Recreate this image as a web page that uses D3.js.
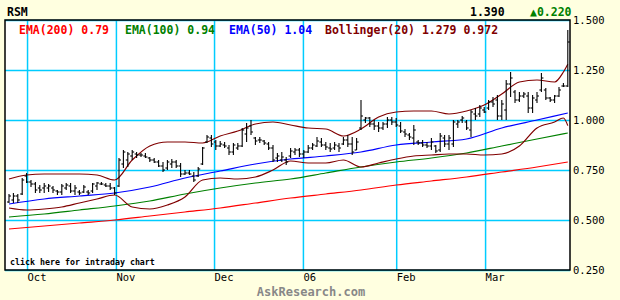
<!DOCTYPE html>
<html>
<head>
<meta charset="utf-8">
<script src="https://cdn.jsdelivr.net/npm/d3@7"></script>
<style>
  body { margin: 0; background: #ffffe0; }
  svg { display: block; }
</style>
</head>
<body>
<svg id="chart" width="620" height="300"></svg>
<script>
// ---- data ----
const symbol = "RSM";
const lastPrice = "1.390";
const change = "\u25B20.220";

const highs = [0.63,0.635,0.63,0.71,0.735,0.70,0.69,0.675,0.685,0.68,
  0.67,0.65,0.68,0.685,0.685,0.675,0.65,0.675,0.65,0.685,
  0.69,0.69,0.685,0.685,0.665,0.81,0.85,0.84,0.85,0.84,
  0.835,0.835,0.815,0.81,0.80,0.79,0.80,0.805,0.80,0.785,
  0.75,0.75,0.74,0.765,0.865,0.925,0.925,0.90,0.895,0.89,
  0.875,0.885,0.885,0.96,0.985,1.00,0.915,0.915,0.90,0.89,
  0.875,0.835,0.84,0.815,0.86,0.86,0.86,0.85,0.875,0.885,
  0.915,0.91,0.89,0.885,0.89,0.885,0.915,0.925,0.915,0.91,
  1.10,1.015,1.015,1.00,0.99,0.99,1.015,1.015,1.01,0.99,
  0.955,0.935,0.975,0.90,0.90,0.89,0.91,0.875,0.935,0.925,
  0.925,1.00,1.00,1.02,1.00,1.05,1.06,1.075,1.065,1.10,
  1.115,1.125,1.10,1.20,1.24,1.15,1.14,1.14,1.14,1.125,
  1.14,1.235,1.16,1.115,1.125,1.165,1.185,1.45];

const lows = [0.585,0.585,0.585,0.625,0.685,0.665,0.635,0.635,0.635,0.64,
  0.635,0.625,0.625,0.65,0.635,0.625,0.625,0.635,0.625,0.635,
  0.65,0.675,0.665,0.65,0.625,0.665,0.76,0.765,0.80,0.81,
  0.815,0.81,0.79,0.785,0.765,0.74,0.75,0.76,0.76,0.715,
  0.725,0.725,0.69,0.715,0.775,0.885,0.865,0.85,0.865,0.86,
  0.825,0.825,0.85,0.865,0.89,0.925,0.875,0.885,0.875,0.85,
  0.79,0.79,0.79,0.775,0.81,0.825,0.815,0.81,0.835,0.85,
  0.865,0.865,0.85,0.84,0.85,0.84,0.875,0.865,0.825,0.85,
  0.95,0.985,0.965,0.95,0.94,0.95,0.96,0.975,0.965,0.935,
  0.915,0.90,0.875,0.875,0.865,0.86,0.85,0.835,0.84,0.865,
  0.85,0.865,0.96,0.985,0.95,0.915,1.00,1.015,1.035,1.05,
  1.065,1.00,1.00,1.00,1.115,1.085,1.09,1.11,1.035,1.035,
  1.085,1.14,1.10,1.09,1.085,1.115,1.165,1.165];

const opens = [0.59,0.60,0.62,0.63,0.72,0.69,0.68,0.66,0.66,0.66,
  0.66,0.645,0.64,0.66,0.67,0.645,0.64,0.64,0.64,0.645,
  0.67,0.68,0.675,0.67,0.66,0.67,0.78,0.80,0.82,0.83,
  0.825,0.82,0.81,0.80,0.79,0.77,0.76,0.78,0.79,0.77,
  0.73,0.735,0.72,0.72,0.78,0.89,0.91,0.89,0.87,0.875,
  0.86,0.84,0.86,0.87,0.93,0.97,0.91,0.90,0.895,0.88,
  0.86,0.81,0.80,0.80,0.82,0.84,0.85,0.83,0.84,0.86,
  0.87,0.89,0.875,0.86,0.86,0.87,0.88,0.90,0.88,0.85,
  0.96,1.00,1.01,0.98,0.97,0.96,0.98,1.00,0.99,0.97,
  0.94,0.925,0.91,0.89,0.885,0.875,0.87,0.87,0.85,0.91,
  0.88,0.88,0.98,1.00,0.99,0.95,1.03,1.03,1.05,1.06,
  1.09,1.10,1.02,1.05,1.18,1.14,1.10,1.12,1.12,1.06,
  1.10,1.15,1.15,1.11,1.10,1.12,1.17,1.17];

const closes = [0.62,0.62,0.60,0.70,0.69,0.68,0.65,0.65,0.67,0.67,
  0.65,0.64,0.67,0.675,0.645,0.66,0.635,0.665,0.635,0.68,
  0.685,0.68,0.67,0.66,0.635,0.80,0.84,0.83,0.84,0.825,
  0.825,0.815,0.80,0.79,0.77,0.75,0.79,0.79,0.77,0.73,
  0.735,0.73,0.70,0.755,0.86,0.915,0.88,0.87,0.88,0.87,
  0.84,0.875,0.87,0.95,0.96,0.94,0.895,0.90,0.885,0.86,
  0.80,0.82,0.815,0.79,0.845,0.85,0.83,0.84,0.86,0.875,
  0.895,0.875,0.865,0.855,0.875,0.86,0.90,0.88,0.84,0.89,
  1.02,1.01,0.98,0.97,0.96,0.98,1.00,0.99,0.975,0.945,
  0.93,0.915,0.95,0.885,0.875,0.87,0.89,0.845,0.92,0.88,
  0.91,0.99,0.99,1.01,0.96,1.04,1.02,1.06,1.04,1.09,
  1.08,1.02,1.08,1.18,1.21,1.10,1.12,1.13,1.06,1.11,
  1.12,1.21,1.11,1.10,1.12,1.15,1.17,1.39];

// moving averages, sampled every 8 bars
const emaIdx    = [0,8,16,24,32,40,48,56,64,72,80,88,96,104,112,120,127];
const ema200    = [0.455,0.47,0.485,0.50,0.52,0.54,0.56,0.585,0.61,0.63,0.65,0.675,0.695,0.715,0.74,0.765,0.79];
const ema100    = [0.515,0.53,0.55,0.57,0.595,0.63,0.66,0.685,0.705,0.735,0.765,0.79,0.81,0.835,0.87,0.905,0.935];
const ema50     = [0.58,0.605,0.62,0.635,0.665,0.71,0.745,0.78,0.805,0.82,0.84,0.875,0.89,0.905,0.96,1.00,1.035];

// bollinger bands, sampled every 4 bars
const bbIdx   = [0,4,8,12,16,20,24,28,32,36,40,44,48,52,56,60,64,68,72,76,80,84,88,92,96,100,104,108,112,116,120,124,126,127];
const bbUpper = [0.705,0.725,0.73,0.73,0.73,0.725,0.70,0.80,0.87,0.89,0.89,0.885,0.92,0.945,0.98,0.99,0.975,0.96,0.955,0.92,0.955,1.015,1.04,1.045,1.045,1.03,1.045,1.075,1.13,1.19,1.20,1.19,1.24,1.279];
const bbLower = [0.56,0.55,0.555,0.565,0.585,0.605,0.625,0.565,0.555,0.575,0.615,0.70,0.71,0.705,0.715,0.75,0.795,0.785,0.785,0.80,0.765,0.785,0.805,0.82,0.825,0.83,0.83,0.825,0.83,0.87,0.96,0.99,1.01,0.972];

const monthLabels = ["Oct","Nov","Dec","06","Feb","Mar"];
const monthIdx    = [4.1,24.3,46.6,66.8,88,108.2];
const priceTicks  = [0.25,0.5,0.75,1.0,1.25,1.5];

const legend = [
  { text: "EMA(200) 0.79", color: "#ff0000", x: 19 },
  { text: "EMA(100) 0.94", color: "#008000", x: 125 },
  { text: "EMA(50) 1.04", color: "#0000ff", x: 229 },
  { text: "Bollinger(20) 1.279 0.972", color: "#800000", x: 325 },
];

// ---- layout ----
const plotL = 5, plotR = 570, plotT = 20, plotB = 270;
const mono = "'DejaVu Sans Mono', 'Liberation Mono', monospace";
const gridColor = "#00ccff";

const svg = d3.select("#chart");

const x = d3.scaleLinear().domain([0, highs.length - 1]).range([9, 567.8]);
const y = d3.scaleLinear().domain([0.25, 1.5]).range([plotB, plotT]);

svg.append("rect")
  .attr("x", plotL).attr("y", plotT)
  .attr("width", plotR - plotL).attr("height", plotB - plotT)
  .attr("fill", "white");

// horizontal grid + price labels
const yAxis = svg.append("g")
  .attr("transform", `translate(${plotL},0)`)
  .call(d3.axisRight(y).tickValues(priceTicks).tickSize(plotR - plotL).tickPadding(3).tickFormat(d3.format(".3f")));
yAxis.select(".domain").remove();
yAxis.selectAll("line").attr("stroke", gridColor).attr("stroke-width", 1.5);
yAxis.selectAll("text")
  .attr("font-family", mono).attr("font-size", "10.5px").attr("fill", "#000");

// vertical grid + month labels
const xAxis = svg.append("g")
  .attr("transform", `translate(0,${plotB})`)
  .call(d3.axisBottom(x).tickValues(monthIdx).tickSize(-(plotB - plotT)).tickPadding(4)
    .tickFormat((d, i) => monthLabels[i]));
xAxis.select(".domain").remove();
xAxis.selectAll("line").attr("stroke", gridColor).attr("stroke-width", 1.5);
xAxis.selectAll("text")
  .attr("text-anchor", "start")
  .attr("font-family", mono).attr("font-size", "10.5px").attr("fill", "#000");

// indicator lines
function drawLine(idx, vals, color) {
  const pts = idx.map((d, i) => [d, vals[i]]);
  svg.append("path")
    .datum(pts)
    .attr("fill", "none")
    .attr("stroke", color)
    .attr("stroke-width", 1.2)
    .attr("d", d3.line().x(d => x(d[0])).y(d => y(d[1])).curve(d3.curveMonotoneX));
}
drawLine(emaIdx, ema200, "#ff0000");
drawLine(emaIdx, ema100, "#008000");
drawLine(emaIdx, ema50, "#0000ff");
drawLine(bbIdx, bbUpper, "#800000");
drawLine(bbIdx, bbLower, "#800000");

// OHLC bars
const bars = svg.append("g").attr("stroke", "#000").attr("stroke-width", 1.1);
highs.forEach((h, i) => {
  const cx = x(i);
  bars.append("line").attr("x1", cx).attr("x2", cx).attr("y1", y(h)).attr("y2", y(lows[i]));
  bars.append("line").attr("x1", cx - 2).attr("x2", cx).attr("y1", y(opens[i])).attr("y2", y(opens[i]));
  bars.append("line").attr("x1", cx).attr("x2", cx + 2).attr("y1", y(closes[i])).attr("y2", y(closes[i]));
});

// frame
svg.append("rect")
  .attr("x", plotL).attr("y", plotT)
  .attr("width", plotR - plotL).attr("height", plotB - plotT)
  .attr("fill", "none").attr("stroke", "#000").attr("stroke-width", 1.5);

// legend
legend.forEach(l => {
  svg.append("text")
    .attr("x", l.x).attr("y", 34)
    .attr("font-family", mono).attr("font-size", "11.5px").attr("font-weight", "bold")
    .attr("fill", l.color)
    .text(l.text);
});

// header
svg.append("text").attr("x", 7).attr("y", 16)
  .attr("font-family", mono).attr("font-size", "11.5px").attr("font-weight", "bold")
  .text(symbol);
svg.append("text").attr("x", 470).attr("y", 16)
  .attr("font-family", mono).attr("font-size", "11.5px").attr("font-weight", "bold")
  .text(lastPrice);
svg.append("text").attr("x", 530).attr("y", 16)
  .attr("font-family", mono).attr("font-size", "11.5px").attr("font-weight", "bold")
  .attr("fill", "#008000")
  .text(change);

svg.append("text").attr("x", 10).attr("y", 265)
  .attr("font-family", mono).attr("font-size", "8.3px").attr("font-weight", "bold")
  .text("click here for intraday chart");

svg.append("text").attr("x", 311).attr("y", 296)
  .attr("text-anchor", "middle")
  .attr("font-family", mono).attr("font-size", "12px").attr("font-weight", "bold")
  .attr("fill", "#888")
  .text("AskResearch.com");
</script>
</body>
</html>
